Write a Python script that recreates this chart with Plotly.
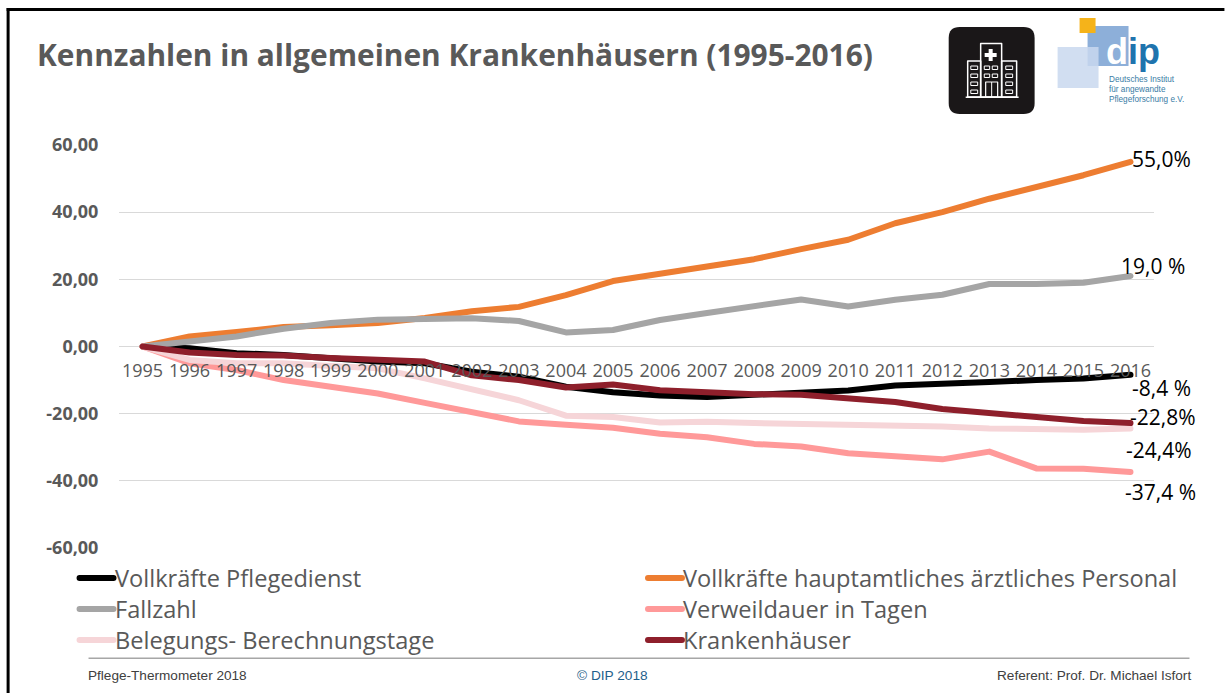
import plotly.graph_objects as go

W, H = 1225, 693
L, R, T, B = 118.5, 1154.5, 145, 548

years = [str(y) for y in range(1995, 2017)]
y_ticks = [-60, -40, -20, 0, 20, 40, 60]
y_tick_labels = ["-60,00", "-40,00", "-20,00", "0,00", "20,00", "40,00", "60,00"]
pflege = [0, -0.5, -2, -2.5, -3.5, -4.5, -5, -7.5, -9, -12, -13.6, -14.6, -15, -14.3, -13.4, -13.1, -11.6, -11.3, -10.6, -10, -9.5, -8.4]
aerzte = [0, 3, 4.3, 5.8, 6.3, 7, 8.5, 10.5, 11.8, 15.3, 19.5, 21.6, 23.8, 26, 29, 31.8, 36.7, 40, 44, 47.5, 51, 55]
fallzahl = [0, 1.5, 3, 5.3, 7, 8, 8.2, 8.4, 7.6, 4.2, 4.9, 7.9, 10, 12.2, 14, 11.9, 13.9, 15.4, 18.6, 18.6, 19, 21]
verweil = [0, -5, -7, -10, -12, -14, -16.8, -19.5, -22.3, -23.3, -24.2, -26, -27, -29, -29.8, -31.8, -32.7, -33.6, -31.3, -36.3, -36.4, -37.4]
belegung = [0, -4, -5, -5, -5.8, -6.5, -9.5, -12.6, -16, -20.6, -21, -22.6, -22.4, -22.8, -23, -23.2, -23.6, -23.8, -24.4, -24.6, -24.8, -24.4]
krankenh = [0, -1.8, -2.5, -2.7, -3.4, -4.1, -4.5, -8.6, -10, -12.2, -11.3, -13, -13.8, -14.2, -14.4, -15.3, -16.5, -18.6, -19.9, -20.9, -22.2, -22.8]

series = [
    ("Vollkräfte Pflegedienst", pflege, "#000000"),
    ("Vollkräfte hauptamtliches ärztliches Personal", aerzte, "#ED7D31"),
    ("Fallzahl", fallzahl, "#A5A5A5"),
    ("Verweildauer in Tagen", verweil, "#FF9999"),
    ("Belegungs- Berechnungstage", belegung, "#F6D5D8"),
    ("Krankenhäuser", krankenh, "#8E1F2B"),
]
end_labels = [("55,0%", 1192, 159), ("19,0 %", 1186, 266), ("-8,4 %", 1192, 388),
              ("-22,8%", 1197, 417), ("-24,4%", 1193, 450), ("-37,4 %", 1197, 492)]

SANS = "Open Sans"
LW = 6


def fx(x):
    return (x - L) / (R - L)


def fy(y):
    return (B - y) / (B - T)


fig = go.Figure()
for name, vals, col in series:
    fig.add_trace(go.Scatter(x=years, y=vals, name=name, mode="lines",
                             line=dict(color=col, width=LW), showlegend=False))

shapes, ann = [], []


def rect(x0, y0, x1, y1, fill=None, line=None, lw=1.5, op=1):
    shapes.append(dict(type="rect", xref="paper", yref="paper", x0=fx(x0), x1=fx(x1), y0=fy(y0), y1=fy(y1),
                       fillcolor=fill or "rgba(0,0,0,0)", opacity=op,
                       line=dict(color=line or "rgba(0,0,0,0)", width=lw if line else 0)))


def text(s, x, y, size, color, anchor="left", bold=False, family=SANS):
    ann.append(dict(text=f"<b>{s}</b>" if bold else s, x=fx(x), y=fy(y), xref="paper", yref="paper",
                    xanchor=anchor, yanchor="middle", showarrow=False, borderpad=0, borderwidth=0,
                    font=dict(size=size, color=color, family=family)))


# slide frame
rect(6, 8, 9, 693, fill="#000000")
rect(6, 8, 1225, 11, fill="#000000")
# footer
rect(88, 657.5, 1190, 659, fill="#A6A6A6")
text("Pflege-Thermometer 2018", 87, 675, 13.6, "#404040", family="Liberation Sans")
text("© DIP 2018", 612, 675, 13.7, "#1F5F8B", anchor="center", family="Liberation Sans")
text("Referent: Prof. Dr. Michael Isfort", 1192, 675, 13.6, "#404040", anchor="right", family="Liberation Sans")
# title
text("Kennzahlen in allgemeinen Krankenhäusern (1995-2016)", 36, 55, 29.9, "#595959", bold=True)

# hospital icon
rx0, ry0, rx1, ry1, r = fx(949), fy(27), fx(1035), fy(114), 11
dx, dy = r / (R - L), r / (B - T)
shapes.append(dict(type="path", xref="paper", yref="paper", fillcolor="#1A1718", line=dict(width=0),
                   path=f"M {rx0 + dx} {ry0} L {rx1 - dx} {ry0} Q {rx1} {ry0} {rx1} {ry0 - dy} "
                        f"L {rx1} {ry1 + dy} Q {rx1} {ry1} {rx1 - dx} {ry1} L {rx0 + dx} {ry1} "
                        f"Q {rx0} {ry1} {rx0} {ry1 + dy} L {rx0} {ry0 - dy} Q {rx0} {ry0} {rx0 + dx} {ry0} Z"))
rect(981, 43.5, 1002, 97, line="#FFFFFF")
rect(968, 61, 981, 97, line="#FFFFFF")
rect(1002, 61, 1017, 97, line="#FFFFFF")
rect(966, 96.5, 1019, 98, fill="#FFFFFF")
rect(985, 53, 997, 57, fill="#FFFFFF")
rect(989, 49, 993, 61, fill="#FFFFFF")
rect(986, 82, 998, 97, line="#FFFFFF", lw=1.2)
rect(991.5, 82, 992.5, 97, fill="#FFFFFF")
for wx in (971.5, 1006.5):
    for wy in (66, 74, 82, 90):
        rect(wx, wy, wx + 6.5, wy + 3.5, line="#FFFFFF", lw=1)
for wx in (985, 993):
    for wy in (66, 74):
        rect(wx, wy, wx + 5, wy + 3.5, line="#FFFFFF", lw=1)

# dip logo
rect(1088, 26, 1129, 66, fill="#8DAFD9")
rect(1058, 47, 1099, 88, fill="#C9D8EE", op=0.85)
rect(1080, 18, 1096, 33, fill="#F5B31A")
text("d", 1106, 52, 36, "#FFFFFF", bold=True, family="Liberation Sans")
text("ip", 1128, 52, 36, "#1F74AE", bold=True, family="Liberation Sans")
text("Deutsches Institut", 1109, 79, 8.2, "#3A7CA5", family="Liberation Sans")
text("für angewandte", 1109, 89, 8.2, "#3A7CA5", family="Liberation Sans")
text("Pflegeforschung e.V.", 1109, 99, 8.2, "#3A7CA5", family="Liberation Sans")

for s, x, y in end_labels:
    text(s, x, y, 21, "#000000", anchor="right")

# legend (two columns, three rows, as in the slide)
for i, (name, vals, col) in enumerate(series):
    lx = 76 if i % 2 == 0 else 645
    ly = 578 + 31 * (i // 2)
    shapes.append(dict(type="line", xref="paper", yref="paper", x0=fx(lx + 3), x1=fx(lx + 37), y0=fy(ly), y1=fy(ly),
                       line=dict(color=col, width=LW)))
    text(name, lx + 38.5, ly, 23.6, "#595959")

fig.update_layout(
    width=W, height=H, autosize=False,
    margin=dict(l=L, r=W - R, t=T, b=H - B, pad=0),
    plot_bgcolor="#FFFFFF", paper_bgcolor="#FFFFFF",
    shapes=shapes, annotations=ann,
    showlegend=False,
    xaxis=dict(type="category", range=[-0.5, 21.5], anchor="free", position=0.5,
               showgrid=False, zeroline=False, showline=False, ticks="outside", ticklen=8,
               tickcolor="rgba(0,0,0,0)", tickangle=0, automargin=False,
               tickfont=dict(size=18, color="#595959", family=SANS)),
    yaxis=dict(range=[-60, 60], tickmode="array", tickvals=y_ticks, ticktext=y_tick_labels,
               showgrid=True, gridcolor="#D9D9D9", gridwidth=1, zeroline=True, zerolinecolor="#D9D9D9",
               zerolinewidth=1, showline=False, ticks="outside", ticklen=16, tickcolor="rgba(0,0,0,0)",
               automargin=False,
               tickfont=dict(size=18, color="#595959", family=SANS, weight="bold")),
)
post = ("document.body.style.margin='0';"
        "document.querySelectorAll('.js-line,.shapelayer path').forEach(function(p){"
        "p.style.strokeLinecap='round';p.style.strokeLinejoin='round';});")
fig.write_html("out.html", config={"displayModeBar": False}, post_script=post)
